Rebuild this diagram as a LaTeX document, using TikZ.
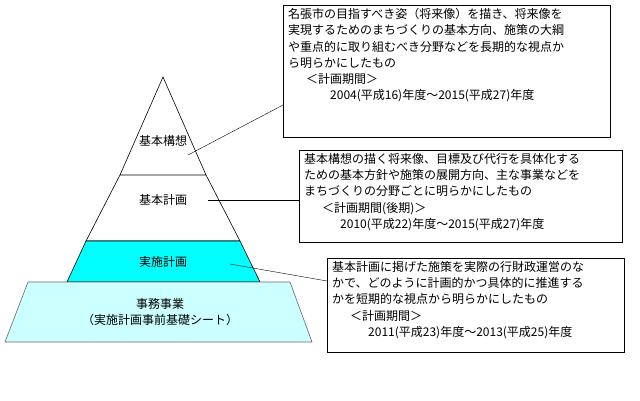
\documentclass[tikz,border=0pt]{standalone}
\usepackage{fontspec}
\setmainfont{Noto Sans CJK JP}
\definecolor{cy}{RGB}{0,255,255}
\definecolor{lcy}{RGB}{204,255,255}
\begin{document}
\begin{tikzpicture}[x=1pt,y=-1pt,
 lay/.style={draw=black,line width=0.6pt},
 box/.style={draw=black,line width=0.6pt,fill=white,anchor=north west,inner sep=0pt},
 txt/.style={anchor=north west,align=left,inner sep=0pt,font=\fontsize{12}{16.3}\selectfont},
 lbl/.style={font=\fontsize{12}{15.5}\selectfont,align=center}]
\useasboundingbox (0,0) rectangle (640,400);
\fill[white] (0,0) rectangle (640,400);
\coordinate (apex) at (163,77);
\draw[lay] (apex) -- (120,175) -- (206,175) -- cycle;
\draw[lay] (120,175) -- (86,241) -- (240,241) -- (206,175);
\draw[lay,fill=cy] (86,241) -- (67,282) -- (260,282) -- (240,241) -- cycle;
\draw[lay,draw=gray!80!black,fill=lcy] (28,282) -- (5,342) -- (312,342) -- (290,282) -- cycle;
\node[lbl] (a) at (163,141) {基本構想};
\node[lbl] (b) at (163,200) {基本計画};
\node[lbl] (c) at (163,262) {実施計画};
\node[lbl] (d) at (160,312) {事務事業\\（実施計画事前基礎シート）};
\node[box,minimum width=327pt,minimum height=132pt] (A) at (283,5) {};
\node[txt] (At) at (288,8) {名張市の目指すべき姿（将来像）を描き、将来像を\\実現するためのまちづくりの基本方向、施策の大綱\\や重点的に取り組むべき分野などを長期的な視点か\\ら明らかにしたもの\\
\hspace*{1.5em}＜計画期間＞\\
\hspace*{3.5em}2004(平成16)年度～2015(平成27)年度};
\node[box,minimum width=323pt,minimum height=92pt] (B) at (299,150) {};
\node[txt] (Bt) at (304,153) {基本構想の描く将来像、目標及び代行を具体化する\\ための基本方針や施策の展開方向、主な事業などを\\まちづくりの分野ごとに明らかにしたもの\\
\hspace*{1.5em}＜計画期間(後期)＞\\
\hspace*{3em}2010(平成22)年度～2015(平成27)年度};
\node[box,minimum width=297pt,minimum height=94pt] (C) at (327,258) {};
\node[txt] (Ct) at (332,261) {基本計画に掲げた施策を実際の行財政運営のな\\かで、どのように計画的かつ具体的に推進する\\かを短期的な視点から明らかにしたもの\\
\hspace*{1.5em}＜計画期間＞\\
\hspace*{3em}2011(平成23)年度～2013(平成25)年度};
\coordinate (a1) at (188,155);
\coordinate (b1) at (208,200);
\coordinate (c1) at (230,264);
\draw (a1) -- (A.west |- 0,105);
\draw (b1) -- (B.west |- 0,200);
\draw (c1) -- (C.west |- 0,281);
\end{tikzpicture}
\end{document}
